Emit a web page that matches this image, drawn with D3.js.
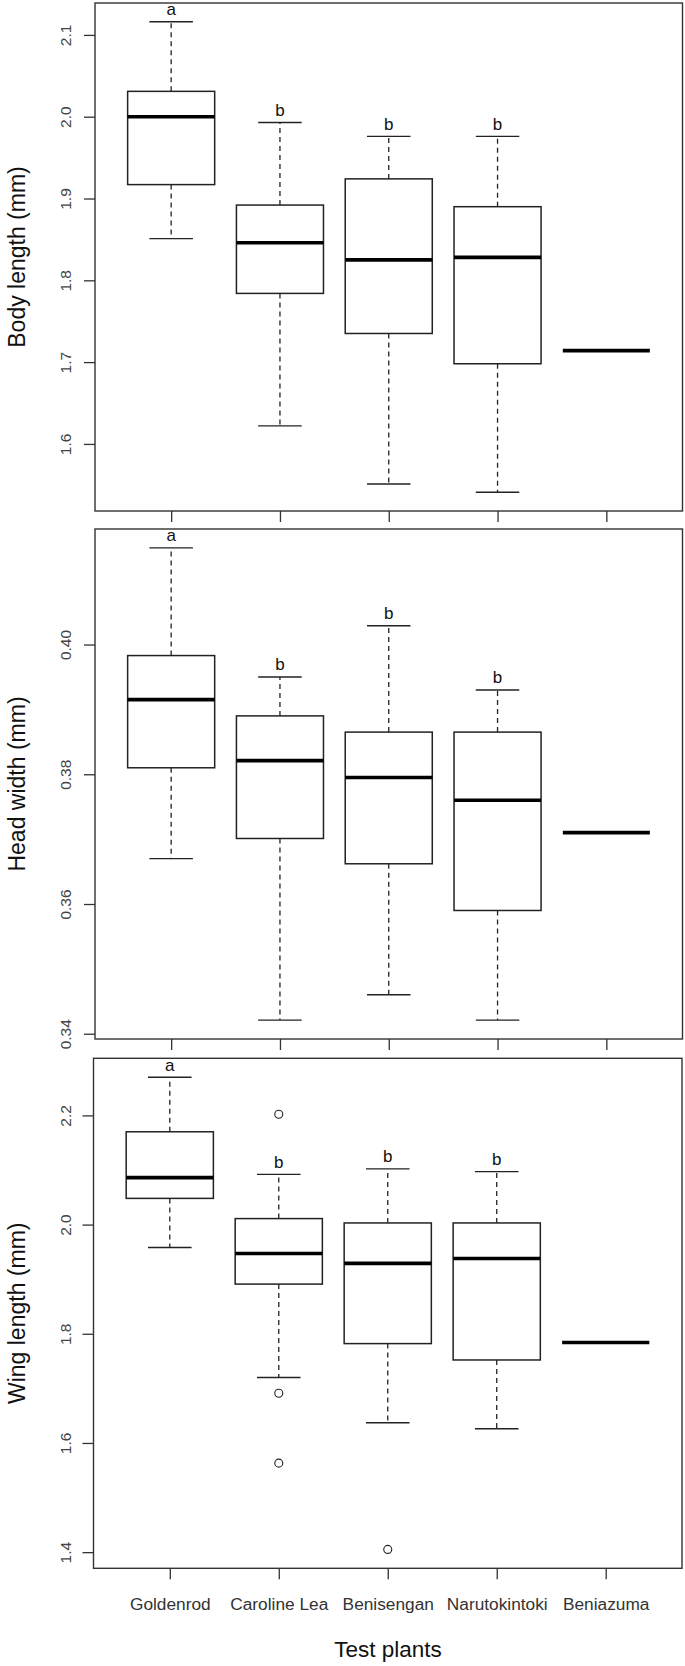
<!DOCTYPE html>
<html><head><meta charset="utf-8">
<script src="https://cdn.jsdelivr.net/npm/d3@7"></script>
<style>body{margin:0;background:#fff}svg{display:block}text{font-family:"Liberation Sans",Arial,sans-serif}</style>
</head><body><svg id="c" width="685" height="1666"></svg>
<script>
const categories = ["Goldenrod","Caroline Lea","Benisengan","Narutokintoki","Beniazuma"];
const letters = ["a","b","b","b",""];
// five-number summaries: [lower whisker, Q1, median, Q3, upper whisker]
const bodyStats = [[1.851,1.917,2.000,2.031,2.116],[1.622,1.784,1.846,1.892,1.993],[1.551,1.735,1.825,1.924,1.976],[1.541,1.698,1.828,1.890,1.976],[1.714,1.714,1.714,1.714,1.714]];
const bodyOutliers = [[],[],[],[],[]];
const bodyTicks = [1.6,1.7,1.8,1.9,2.0,2.1];
const headStats = [[0.3670,0.3810,0.3915,0.3983,0.4149],[0.3421,0.3701,0.3821,0.3890,0.3950],[0.3460,0.3662,0.3795,0.3865,0.4029],[0.3421,0.3590,0.3760,0.3865,0.3930],[0.3710,0.3710,0.3710,0.3710,0.3710]];
const headOutliers = [[],[],[],[],[]];
const headTicks = [0.34,0.36,0.38,0.40];
const wingStats = [[1.958,2.048,2.086,2.170,2.270],[1.720,1.891,1.947,2.011,2.092],[1.637,1.782,1.929,2.003,2.102],[1.626,1.752,1.938,2.003,2.097],[1.784,1.784,1.784,1.784,1.784]];
const wingOutliers = [[],[2.202,1.691,1.563],[1.405],[],[]];
const wingTicks = [1.4,1.6,1.8,2.0,2.2];

const svg = d3.select("#c");
const ink = "#222";
const panels = [
  {stats: bodyStats, out: bodyOutliers, ticks: bodyTicks, fmt: ".1f", title: "Body length (mm)", x0: 95, x1: 682.5, y0: 3, y1: 511},
  {stats: headStats, out: headOutliers, ticks: headTicks, fmt: ".2f", title: "Head width (mm)", x0: 95, x1: 682.5, y0: 529, y1: 1039},
  {stats: wingStats, out: wingOutliers, ticks: wingTicks, fmt: ".1f", title: "Wing length (mm)", x0: 93.5, x1: 682, y0: 1058.3, y1: 1568.3}
];

panels.forEach((p, pi) => {
  const allVals = p.stats.flat().concat(p.out.flat());
  const lo = d3.min(allVals), hi = d3.max(allVals), pad = (hi - lo) * 0.04;
  const y = d3.scaleLinear().domain([lo - pad, hi + pad]).range([p.y1, p.y0]);
  const x = d3.scaleLinear().domain([0.3, 5.7]).range([p.x0, p.x1]);
  const bw = x(0.8) - x(0);
  const g = svg.append("g");

  p.stats.forEach((s, i) => {
    const cx = x(i + 1);
    const [wl, q1, med, q3, wh] = s;
    if (wh > q3) {
      g.append("line").attr("x1", cx).attr("x2", cx).attr("y1", y(q3)).attr("y2", y(wh))
        .attr("stroke", ink).attr("stroke-width", 1.3).attr("stroke-dasharray", "5,4");
      g.append("line").attr("x1", cx - bw / 4).attr("x2", cx + bw / 4).attr("y1", y(wh)).attr("y2", y(wh))
        .attr("stroke", ink).attr("stroke-width", 1.4);
    }
    if (wl < q1) {
      g.append("line").attr("x1", cx).attr("x2", cx).attr("y1", y(q1)).attr("y2", y(wl))
        .attr("stroke", ink).attr("stroke-width", 1.3).attr("stroke-dasharray", "5,4");
      g.append("line").attr("x1", cx - bw / 4).attr("x2", cx + bw / 4).attr("y1", y(wl)).attr("y2", y(wl))
        .attr("stroke", ink).attr("stroke-width", 1.4);
    }
    if (q3 > q1) {
      g.append("rect").attr("x", cx - bw / 2).attr("y", y(q3)).attr("width", bw).attr("height", y(q1) - y(q3))
        .attr("fill", "#fff").attr("stroke", ink).attr("stroke-width", 1.5);
    }
    g.append("line").attr("x1", cx - bw / 2).attr("x2", cx + bw / 2).attr("y1", y(med)).attr("y2", y(med))
      .attr("stroke", "#000").attr("stroke-width", 3.6);
    p.out[i].forEach(v => {
      g.append("circle").attr("cx", cx).attr("cy", y(v)).attr("r", 4)
        .attr("fill", "none").attr("stroke", ink).attr("stroke-width", 1.1);
    });
    if (letters[i]) {
      g.append("text").attr("x", cx).attr("y", y(wh) - 6.5).attr("text-anchor", "middle")
        .attr("font-size", 17).attr("fill", "#111").text(letters[i]);
    }
  });

  g.append("rect").attr("x", p.x0).attr("y", p.y0).attr("width", p.x1 - p.x0).attr("height", p.y1 - p.y0)
    .attr("fill", "none").attr("stroke", "#333").attr("stroke-width", 1.4);

  const ya = g.append("g").attr("transform", `translate(${p.x0},0)`)
    .call(d3.axisLeft(y).tickValues(p.ticks).tickSize(11).tickFormat(d3.format(p.fmt)));
  ya.select(".domain").remove();
  ya.selectAll(".tick line").attr("stroke", "#333").attr("stroke-width", 1.3);
  ya.selectAll(".tick text").attr("x", null).attr("dy", null)
    .attr("transform", `translate(${65 - p.x0},0) rotate(-90)`)
    .attr("text-anchor", "middle").attr("dominant-baseline", "central")
    .attr("font-size", 15.5).attr("fill", "#444").attr("font-family", '"Liberation Sans",Arial,sans-serif');

  const xa = g.append("g").attr("transform", `translate(0,${p.y1})`)
    .call(d3.axisBottom(x).tickValues([1, 2, 3, 4, 5]).tickSize(11)
      .tickFormat((d) => pi === 2 ? categories[d - 1] : ""));
  xa.select(".domain").remove();
  xa.selectAll(".tick line").attr("stroke", "#333").attr("stroke-width", 1.3);
  xa.selectAll(".tick text").attr("y", 36).attr("dy", "0.35em").attr("font-size", 17.3)
    .attr("fill", "#333").attr("font-family", '"Liberation Sans",Arial,sans-serif');

  g.append("text").attr("transform", `translate(17,${(p.y0 + p.y1) / 2}) rotate(-90)`)
    .attr("text-anchor", "middle").attr("dominant-baseline", "central")
    .attr("font-size", 23).attr("fill", "#111").text(p.title);
});

svg.append("text").attr("x", 388).attr("y", 1649).attr("text-anchor", "middle").attr("dominant-baseline", "central")
  .attr("font-size", 22.5).attr("fill", "#111").text("Test plants");
</script></body></html>
